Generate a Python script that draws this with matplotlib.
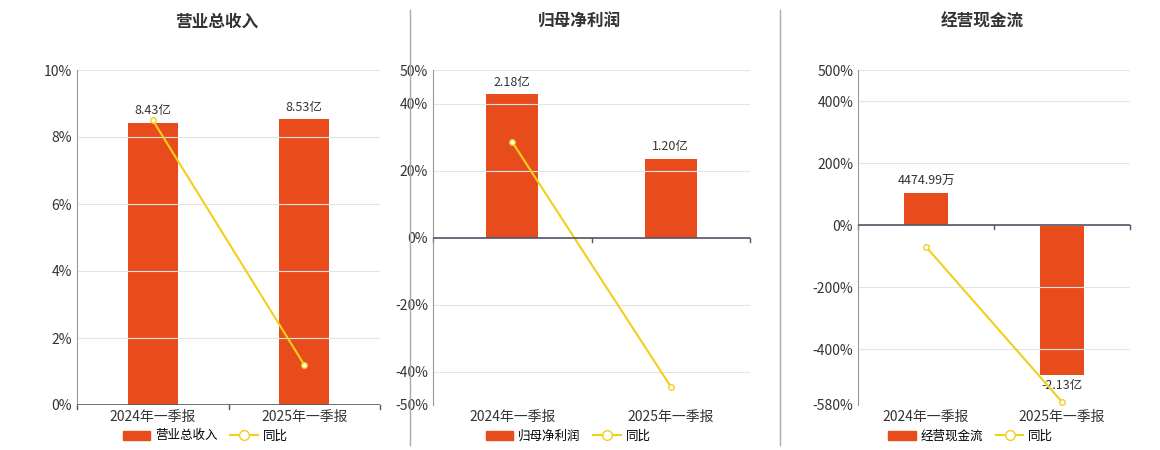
import matplotlib.pyplot as plt
from matplotlib.lines import Line2D
from matplotlib.patches import Patch

plt.rcParams['font.family'] = ['Noto Sans CJK SC', 'DejaVu Sans']

periods = ["2024年一季报", "2025年一季报"]
titles = ["营业总收入", "归母净利润", "经营现金流"]
bar_vals = [[8.43, 8.53], [2.18, 1.20], [0.447499, -2.13]]
bar_labels = [["8.43亿", "8.53亿"], ["2.18亿", "1.20亿"], ["4474.99万", "-2.13亿"]]
yoy = [[8.5, 1.2], [28.5, -44.5], [-70, -570]]
yticks = [[0, 2, 4, 6, 8, 10], [-50, -40, -20, 0, 20, 40, 50], [-580, -400, -200, 0, 200, 400, 500]]
bar_lims = [(0, 10), (-2.547, 2.547), (-2.556, 2.2)]

BAR = "#E84C1C"
LINE = "#F2CF1B"

fig = plt.figure(figsize=(11.6, 4.5), dpi=100)
W, H = 1160, 450
boxes = [(77, 380), (433, 750), (858, 1130)]
for i in range(3):
    x0, x1 = boxes[i]
    ax = fig.add_axes([x0 / W, 1 - 405 / H, (x1 - x0) / W, 335 / H])
    ax2 = ax.twinx()
    ax.set_zorder(ax2.get_zorder() + 1)
    ax.patch.set_visible(False)
    xs = [0, 1]
    ax2.bar(xs, bar_vals[i], width=0.33, color=BAR, zorder=2)
    ax2.set_ylim(*bar_lims[i])
    ax2.set_yticks([])
    for s in ax2.spines.values():
        s.set_visible(False)
    for x, v, lab in zip(xs, bar_vals[i], bar_labels[i]):
        ax2.annotate(lab, (x, v), xytext=(0, 4 if v >= 0 else -12), textcoords="offset points",
                     ha="center", va="bottom", fontsize=9, color="#333333")
    ax.plot(xs, yoy[i], color=LINE, lw=1.5, marker="o", ms=4, mfc="white", mec=LINE, zorder=3)
    ax.set_xlim(-0.5, 1.5)
    yt = yticks[i]
    ax.set_ylim(yt[0], yt[-1])
    ax.set_yticks(yt)
    ax.set_yticklabels([f"{t}%" for t in yt], fontsize=10, color="#333333")
    ax.grid(axis="y", color="#E3E3EC", lw=0.8)
    ax.set_axisbelow(True)
    ax.set_xticks(xs)
    ax.set_xticklabels(periods, fontsize=10, color="#333333")
    ax.tick_params(axis="x", length=0)
    ax.tick_params(axis="y", length=0)
    for s in ["top", "right"]:
        ax.spines[s].set_visible(False)
    ax.spines["left"].set_color("#999999")
    ax.spines["bottom"].set_visible(False)
    ax.axhline(0, color="#555566", lw=1.2, zorder=4)
    for xt in [-0.5, 0.5, 1.5]:
        ax.plot([xt, xt], [0, (yt[-1] - yt[0]) * -0.012], color="#555566", lw=1, clip_on=False)
    fig.text((x0 + x1) / 2 / W - 0.01, 1 - 22 / H, titles[i], ha="center", va="center",
             fontsize=12, fontweight="bold", color="#333333")
    handles = [Patch(color=BAR), Line2D([], [], color=LINE, marker="o", mfc="white", ms=7)]
    fig.legend(handles, [titles[i], "同比"], loc="center", ncol=2, frameon=False, fontsize=9,
               bbox_to_anchor=((x0 + x1) / 2 / W - 0.02, 1 - 436 / H), handlelength=2.2,
               columnspacing=1.0, handletextpad=0.4)

for xl in [410, 780]:
    fig.add_artist(Line2D([xl / W, xl / W], [1 - 445 / H, 1 - 10 / H], color="#AAAAAA", lw=1))

fig.savefig("out.png", dpi=100)
